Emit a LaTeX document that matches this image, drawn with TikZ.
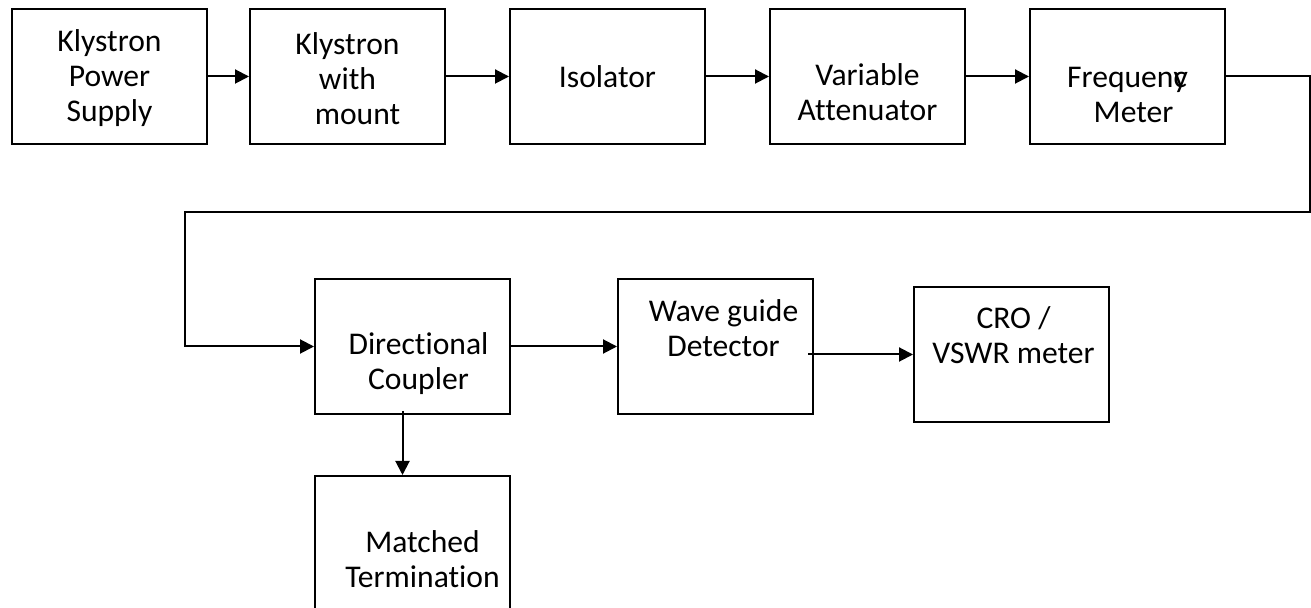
\documentclass[tikz,border=0pt]{standalone}
\usepackage{fontspec}
\setmainfont{Carlito}[Ligatures=NoCommon]
\usetikzlibrary{arrows.meta}

\tikzset{
  blk/.style={draw, line width=1pt, minimum width=97.5pt, minimum height=67.5pt, inner sep=0pt},
  lbl/.style={align=center, font=\fontsize{15.8}{17.5}\selectfont, inner sep=0pt},
  arr/.style={line width=1pt, -{Triangle[length=7pt,width=7pt]}}
}

\begin{document}
\begin{tikzpicture}[x=0.5pt, y=-0.5pt]
  \useasboundingbox (0,0) rectangle (1311,608);
  % top row
  \node[blk] (kps) at (109.5,76.5) {};
  \node[blk] (kmt) at (347.5,76.5) {};
  \node[blk] (iso) at (607.5,76.5) {};
  \node[blk] (va)  at (867.5,76.5) {};
  \node[blk] (fm)  at (1127.5,76.5) {};
  % bottom part
  \node[blk] (dc)  at (412.5,346.5) {};
  \node[blk] (wg)  at (715.5,346.5) {};
  \node[blk] (cro) at (1011.5,354.5) {};
  \node[blk] (mt)  at (412.5,543.5) {};
  % texts
  \node[lbl] (kps-t) at ([yshift=-1pt]kps.center) {Klystron\\Power\\Supply};
  \node[lbl] (kmt-t) at ([yshift=-1pt]kmt.center) {Klystron\\with\hspace*{8pt}\\\hspace*{10pt}mount};
  \node[lbl] (iso-t) at (iso) {Isolator};
  \node[lbl] (va-t)  at ([yshift=-8pt]va.center) {Variable\\Attenuator};
  \node[lbl] (fm-t)  at ([yshift=-9pt]fm.center) {Frequen\rlap{c}y\\\hspace{6pt}Meter};
  \node[lbl] (dc-t)  at ([xshift=3pt,yshift=-8.5pt]dc.center) {Directional\\Coupler};
  \node[lbl] (wg-t)  at ([xshift=4pt,yshift=9pt]wg.center) {Wave guide\\Detector};
  \node[lbl] (cro-t) at ([xshift=1pt,yshift=9.5pt]cro.center) {CRO /\\VSWR meter};
  \node[lbl] (mt-t)  at ([xshift=5pt,yshift=-8pt]mt.center) {Matched\\Termination};
  % connectors
  \coordinate (rt) at (1310,212);
  \coordinate (lt) at (185,212);
  \draw[arr] (kps) -- (kmt);
  \draw[arr] (kmt) -- (iso);
  \draw[arr] (iso) -- (va);
  \draw[arr] (va) -- (fm);
  \draw[arr] (fm.east) -| (rt) -- (lt) |- (dc.west);
  \draw[arr] (dc.east |- wg.west) -- (wg.west);
  \draw[arr, shorten <=-3pt] (cro.west -| wg.east) -- (cro.west);
  \draw[arr, shorten <=-2pt] ([xshift=-5pt]dc.south) -- ([xshift=-5pt]mt.north);
\end{tikzpicture}
\end{document}
